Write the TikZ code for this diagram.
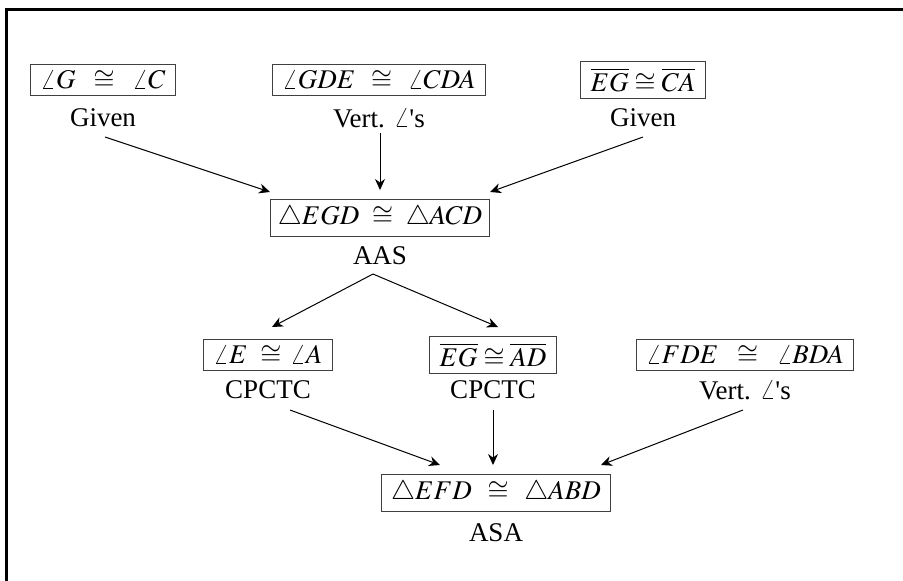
\documentclass[tikz,border=0pt]{standalone}
\usepackage{mathptmx}
\usepackage[no-math]{fontspec}
\setmainfont{Liberation Serif}
\usetikzlibrary{arrows.meta}
\begin{document}
\begin{tikzpicture}[x=0.5pt,y=-0.5pt,
  every node/.style={font=\fontsize{13.5}{16}\selectfont},
  stmt/.style={draw=black!75,line width=0.5pt,inner xsep=5pt,inner ysep=3pt},
  reason/.style={inner sep=0pt},
  arr/.style={line width=0.5pt,-{Stealth[length=5.5pt,width=5pt]}}]
\useasboundingbox (0,0) rectangle (903,580);
\draw[line width=1.5pt] (6,590) |- (910,9);
% row 1
\node[stmt] (s1) at (103,80) {$\angle G\;\;\cong\;\;\angle C$};
\node[reason] (r1) at (103,118) {Given};
\node[stmt] (s2) at (379,80) {$\angle GDE\ \,\cong\ \,\angle CDA$};
\node[reason] (r2) at (379,118) {Vert. $\angle$\textquotesingle s};
\node[stmt] (s3) at (643,80) {$\overline{EG}\cong\overline{CA}$};
\node[reason] (r3) at (643,118) {Given};
% row 2
\node[stmt,inner xsep=3.5pt] (s4) at (380,218) {$\triangle EGD\ \cong\ \triangle ACD$};
\node[reason] (r4) at (380,256) {AAS};
% row 3
\node[stmt] (s5) at (268,355) {$\angle E\ \cong\,\angle A$};
\node[reason] (r5) at (268,390) {CPCTC};
\node[stmt] (s6) at (493,355) {$\overline{EG}\cong\overline{AD}$};
\node[reason] (r6) at (493,390) {CPCTC};
\node[stmt] (s7) at (745,355) {$\angle FDE\ \;\cong\ \;\angle BDA$};
\node[reason] (r7) at (745,390) {Vert. $\angle$\textquotesingle s};
% row 4
\node[stmt] (s8) at (496,493) {$\triangle EFD\ \,\cong\ \,\triangle ABD$};
\node[reason] (r8) at (496,533) {ASA};
% arrow end points
\coordinate (a1) at (105,137); \coordinate (b1) at (270,192);
\coordinate (a2) at (380,133); \coordinate (b2) at (380,190);
\coordinate (a3) at (643,137); \coordinate (b3) at (490,192);
\coordinate (a4) at (373,274); \coordinate (b4) at (272,327); \coordinate (b5) at (498,327);
\coordinate (a6) at (290,410); \coordinate (b6) at (440,465);
\coordinate (a7) at (493,410); \coordinate (b7) at (493,465);
\coordinate (a8) at (743,410); \coordinate (b8) at (601,465);
\draw[arr] (a1) -- (b1);
\draw[arr] (a2) -- (b2);
\draw[arr] (a3) -- (b3);
\draw[arr] (a4) -- (b4);
\draw[arr] (a4) -- (b5);
\draw[arr] (a6) -- (b6);
\draw[arr] (a7) -- (b7);
\draw[arr] (a8) -- (b8);
\end{tikzpicture}
\end{document}
